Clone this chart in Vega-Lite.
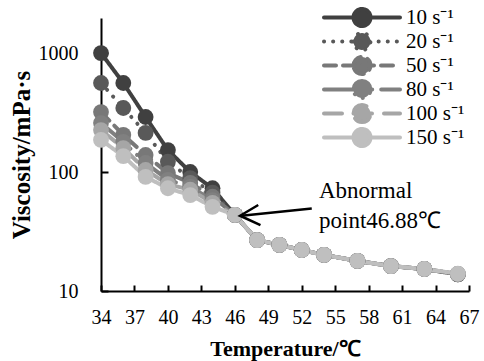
{
  "$schema": "https://vega.github.io/schema/vega-lite/v6.json",
  "width": 368,
  "height": 273,
  "autosize": {"type": "none"},
  "padding": {"left": 101, "top": 18, "right": 15, "bottom": 70},
  "background": "white",
  "config": {
    "view": {"stroke": null},
    "font": "Liberation Serif",
    "axis": {
      "grid": false,
      "domainColor": "black",
      "domainWidth": 2,
      "tickColor": "black",
      "tickWidth": 2,
      "labelFont": "Liberation Serif",
      "labelFontSize": 20,
      "labelColor": "black",
      "labelOverlap": false,
      "titleFont": "Liberation Serif",
      "titleFontWeight": "bold",
      "titleColor": "black"
    }
  },
  "datasets": {
    "main": [
      {"T": 34, "V": 1000, "rate": "10 s⁻¹"}, {"T": 36, "V": 560, "rate": "10 s⁻¹"}, {"T": 38, "V": 290, "rate": "10 s⁻¹"}, {"T": 40, "V": 153, "rate": "10 s⁻¹"}, {"T": 42, "V": 100, "rate": "10 s⁻¹"}, {"T": 44, "V": 73, "rate": "10 s⁻¹"}, {"T": 46, "V": 43.6, "rate": "10 s⁻¹"}, {"T": 48, "V": 26.8, "rate": "10 s⁻¹"}, {"T": 50, "V": 24.4, "rate": "10 s⁻¹"}, {"T": 52, "V": 22.1, "rate": "10 s⁻¹"}, {"T": 54, "V": 20.1, "rate": "10 s⁻¹"}, {"T": 57, "V": 17.9, "rate": "10 s⁻¹"}, {"T": 60, "V": 16.2, "rate": "10 s⁻¹"}, {"T": 63, "V": 15.3, "rate": "10 s⁻¹"}, {"T": 66, "V": 13.8, "rate": "10 s⁻¹"},
      {"T": 34, "V": 560, "rate": "20 s⁻¹"}, {"T": 36, "V": 345, "rate": "20 s⁻¹"}, {"T": 38, "V": 213, "rate": "20 s⁻¹"}, {"T": 40, "V": 122, "rate": "20 s⁻¹"}, {"T": 42, "V": 89, "rate": "20 s⁻¹"}, {"T": 44, "V": 67, "rate": "20 s⁻¹"}, {"T": 46, "V": 43.6, "rate": "20 s⁻¹"}, {"T": 48, "V": 26.8, "rate": "20 s⁻¹"}, {"T": 50, "V": 24.4, "rate": "20 s⁻¹"}, {"T": 52, "V": 22.1, "rate": "20 s⁻¹"}, {"T": 54, "V": 20.1, "rate": "20 s⁻¹"}, {"T": 57, "V": 17.9, "rate": "20 s⁻¹"}, {"T": 60, "V": 16.2, "rate": "20 s⁻¹"}, {"T": 63, "V": 15.3, "rate": "20 s⁻¹"}, {"T": 66, "V": 13.8, "rate": "20 s⁻¹"},
      {"T": 34, "V": 319, "rate": "50 s⁻¹"}, {"T": 36, "V": 205, "rate": "50 s⁻¹"}, {"T": 38, "V": 139, "rate": "50 s⁻¹"}, {"T": 40, "V": 98, "rate": "50 s⁻¹"}, {"T": 42, "V": 81, "rate": "50 s⁻¹"}, {"T": 44, "V": 62, "rate": "50 s⁻¹"}, {"T": 46, "V": 43.6, "rate": "50 s⁻¹"}, {"T": 48, "V": 26.8, "rate": "50 s⁻¹"}, {"T": 50, "V": 24.4, "rate": "50 s⁻¹"}, {"T": 52, "V": 22.1, "rate": "50 s⁻¹"}, {"T": 54, "V": 20.1, "rate": "50 s⁻¹"}, {"T": 57, "V": 17.9, "rate": "50 s⁻¹"}, {"T": 60, "V": 16.2, "rate": "50 s⁻¹"}, {"T": 63, "V": 15.3, "rate": "50 s⁻¹"}, {"T": 66, "V": 13.9, "rate": "50 s⁻¹"},
      {"T": 34, "V": 258, "rate": "80 s⁻¹"}, {"T": 36, "V": 179, "rate": "80 s⁻¹"}, {"T": 38, "V": 119, "rate": "80 s⁻¹"}, {"T": 40, "V": 86, "rate": "80 s⁻¹"}, {"T": 42, "V": 75, "rate": "80 s⁻¹"}, {"T": 44, "V": 58, "rate": "80 s⁻¹"}, {"T": 46, "V": 43.6, "rate": "80 s⁻¹"}, {"T": 48, "V": 26.8, "rate": "80 s⁻¹"}, {"T": 50, "V": 24.4, "rate": "80 s⁻¹"}, {"T": 52, "V": 22.1, "rate": "80 s⁻¹"}, {"T": 54, "V": 20.1, "rate": "80 s⁻¹"}, {"T": 57, "V": 17.9, "rate": "80 s⁻¹"}, {"T": 60, "V": 16.2, "rate": "80 s⁻¹"}, {"T": 63, "V": 15.3, "rate": "80 s⁻¹"}, {"T": 66, "V": 13.9, "rate": "80 s⁻¹"},
      {"T": 34, "V": 225, "rate": "100 s⁻¹"}, {"T": 36, "V": 159, "rate": "100 s⁻¹"}, {"T": 38, "V": 104, "rate": "100 s⁻¹"}, {"T": 40, "V": 79, "rate": "100 s⁻¹"}, {"T": 42, "V": 71, "rate": "100 s⁻¹"}, {"T": 44, "V": 55, "rate": "100 s⁻¹"}, {"T": 46, "V": 43.6, "rate": "100 s⁻¹"}, {"T": 48, "V": 26.8, "rate": "100 s⁻¹"}, {"T": 50, "V": 24.4, "rate": "100 s⁻¹"}, {"T": 52, "V": 22.1, "rate": "100 s⁻¹"}, {"T": 54, "V": 20.1, "rate": "100 s⁻¹"}, {"T": 57, "V": 17.9, "rate": "100 s⁻¹"}, {"T": 60, "V": 16.2, "rate": "100 s⁻¹"}, {"T": 63, "V": 15.3, "rate": "100 s⁻¹"}, {"T": 66, "V": 13.9, "rate": "100 s⁻¹"},
      {"T": 34, "V": 186, "rate": "150 s⁻¹"}, {"T": 36, "V": 136, "rate": "150 s⁻¹"}, {"T": 38, "V": 91, "rate": "150 s⁻¹"}, {"T": 40, "V": 73, "rate": "150 s⁻¹"}, {"T": 42, "V": 64, "rate": "150 s⁻¹"}, {"T": 44, "V": 51, "rate": "150 s⁻¹"}, {"T": 46, "V": 43.6, "rate": "150 s⁻¹"}, {"T": 48, "V": 26.8, "rate": "150 s⁻¹"}, {"T": 50, "V": 24.4, "rate": "150 s⁻¹"}, {"T": 52, "V": 22.1, "rate": "150 s⁻¹"}, {"T": 54, "V": 20.1, "rate": "150 s⁻¹"}, {"T": 57, "V": 17.9, "rate": "150 s⁻¹"}, {"T": 60, "V": 16.2, "rate": "150 s⁻¹"}, {"T": 63, "V": 15.3, "rate": "150 s⁻¹"}, {"T": 66, "V": 14.0, "rate": "150 s⁻¹"}
    ],
    "arrowShaft": [{"T": 52.9, "V": 49.3, "T2": 46.6, "V2": 42.9}],
    "arrowHead": [{"T": 48.1, "V": 52.8, "o": 1}, {"T": 46.47, "V": 42.9, "o": 2}, {"T": 48.3, "V": 35.8, "o": 3}],
    "notes": [{"T": 53.55, "V": 69, "t": "Abnormal"}, {"T": 53.55, "V": 38.7, "t": "point46.88℃"}]
  },
  "encoding": {
    "x": {
      "field": "T", "type": "quantitative",
      "scale": {"domain": [34, 67], "nice": false, "zero": false},
      "axis": {"values": [34, 37, 40, 43, 46, 49, 52, 55, 58, 61, 64, 67], "labelOverlap": false, "labelFlush": false, "title": "Temperature/℃", "titleFont": "Liberation Serif", "titleFontSize": 22, "tickSize": -6, "labelPadding": 22, "titleY": 64, "titleBaseline": "alphabetic"}
    },
    "y": {
      "field": "V", "type": "quantitative",
      "scale": {"type": "log", "domain": [10, 1970], "nice": false},
      "axis": {"values": [10, 100, 1000], "format": "d", "labelOverlap": false, "title": "Viscosity/mPa·s", "titleFontSize": 25, "tickSize": -7, "labelPadding": 30,
        "encode": {
          "labels": {"update": {"x": {"value": -23}, "align": {"value": "right"}}},
          "title": {"update": {"x": {"value": 27}, "y": {"value": 149}, "font": {"value": "Liberation Serif"}, "fontWeight": {"value": "bold"}, "baseline": {"value": "alphabetic"}, "angle": {"value": -90}}}
        }
      }
    }
  },
  "layer": [
    {
      "data": {"name": "main"},
      "mark": {"type": "line", "strokeWidth": 4, "strokeCap": "round", "strokeJoin": "round"},
      "encoding": {
        "color": {
          "field": "rate", "type": "nominal",
          "scale": {"domain": ["10 s⁻¹", "20 s⁻¹", "50 s⁻¹", "80 s⁻¹", "100 s⁻¹", "150 s⁻¹"], "range": ["#404040", "#595959", "#787878", "#808080", "#a6a6a6", "#bfbfbf"]},
          "legend": {
            "title": null, "orient": "none", "legendX": 221, "legendY": -11, "padding": 0,
            "symbolType": "M-1,0L6.6,0M1.95,0A0.85,0.85,0,1,1,3.65,0A0.85,0.85,0,1,1,1.95,0Z",
            "symbolSize": 400, "symbolStrokeWidth": 4,
            "labelFont": "Liberation Serif", "labelFontSize": 21, "labelColor": "black", "labelOffset": 60,
            "clipHeight": 21, "rowPadding": 2,
            "encode": {"symbols": {"update": {"fill": {"scale": "color", "field": "value"}, "strokeCap": {"value": "round"}}}}
          }
        },
        "strokeDash": {
          "field": "rate", "type": "nominal",
          "scale": {"domain": ["10 s⁻¹", "20 s⁻¹", "50 s⁻¹", "80 s⁻¹", "100 s⁻¹", "150 s⁻¹"], "range": [[1, 0], [0.1, 9], [12, 7], [30, 9, 0.1, 9, 0.1, 9], [18, 12], [1, 0]]},
          "legend": {
            "title": null, "orient": "none", "legendX": 221, "legendY": -11, "padding": 0,
            "symbolType": "M-1,0L6.6,0M1.95,0A0.85,0.85,0,1,1,3.65,0A0.85,0.85,0,1,1,1.95,0Z",
            "symbolSize": 400, "symbolStrokeWidth": 4,
            "labelFont": "Liberation Serif", "labelFontSize": 21, "labelColor": "black", "labelOffset": 60,
            "clipHeight": 21, "rowPadding": 2,
            "encode": {"symbols": {"update": {"fill": {"scale": "color", "field": "value"}, "strokeCap": {"value": "round"}}}}
          }
        }
      }
    },
    {
      "data": {"name": "main"},
      "mark": {"type": "circle", "size": 250, "opacity": 1},
      "encoding": {
        "color": {"field": "rate", "type": "nominal", "legend": null}
      }
    },
    {
      "data": {"name": "arrowShaft"},
      "mark": {"type": "rule", "color": "black", "strokeWidth": 2.5},
      "encoding": {
        "x2": {"field": "T2"},
        "y2": {"field": "V2"}
      }
    },
    {
      "data": {"name": "arrowHead"},
      "mark": {"type": "line", "color": "black", "strokeWidth": 2.5, "strokeJoin": "miter"},
      "encoding": {
        "order": {"field": "o"}
      }
    },
    {
      "data": {"name": "notes"},
      "mark": {"type": "text", "align": "left", "baseline": "middle", "font": "Liberation Serif", "fontSize": 23, "color": "black"},
      "encoding": {
        "text": {"field": "t"}
      }
    }
  ]
}
